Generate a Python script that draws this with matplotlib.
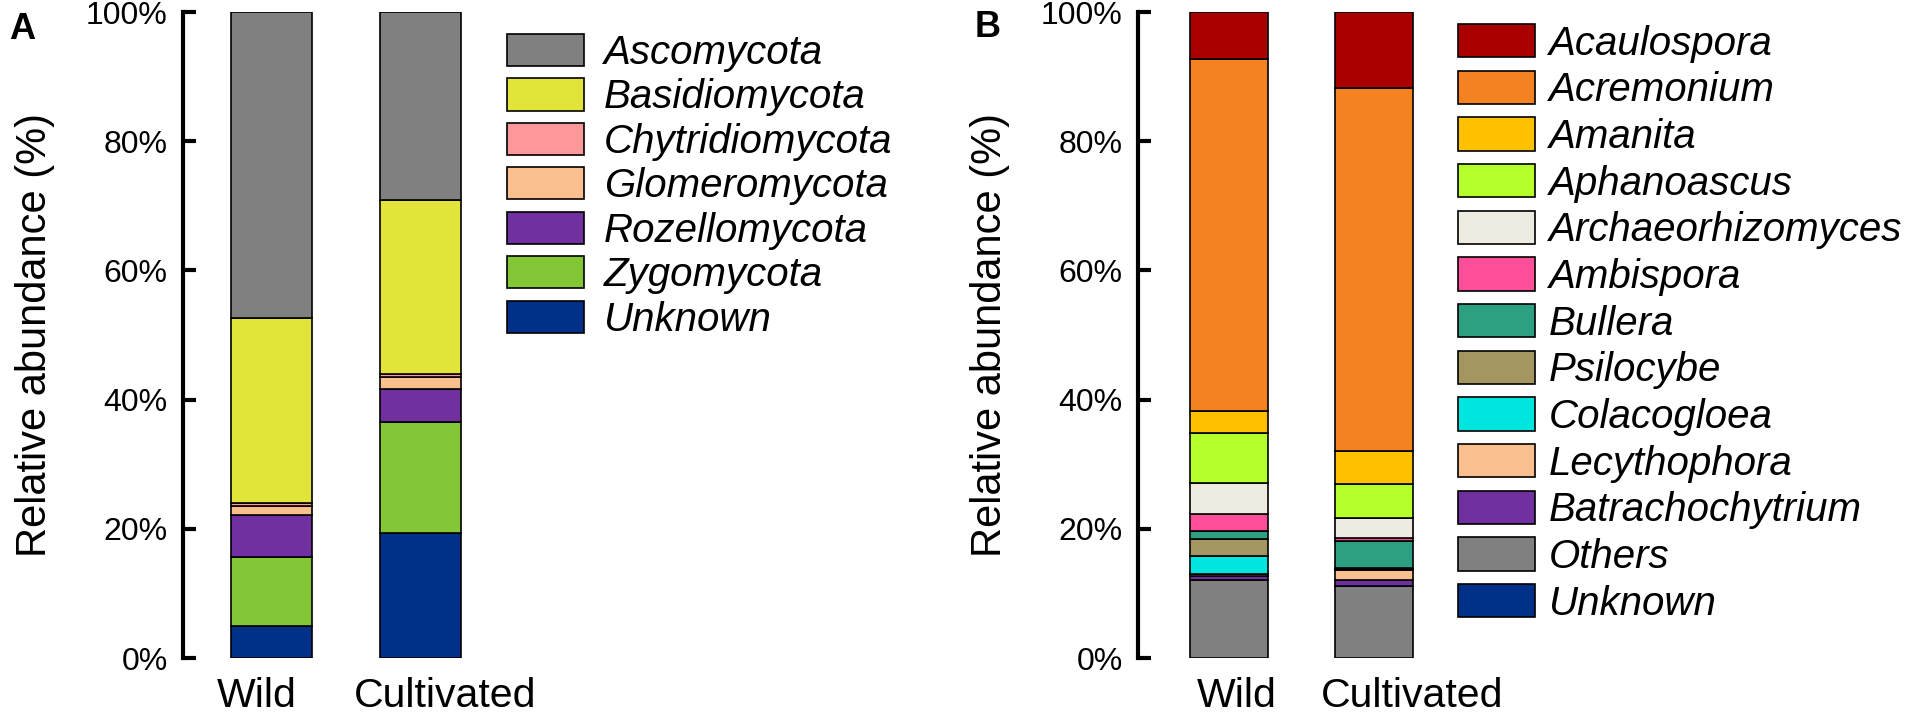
import matplotlib
matplotlib.use('Agg')
from matplotlib import pyplot as plt
import numpy as np

plt.rc('font', family=['Liberation Sans', 'DejaVu Sans'], size=23)

groups = ['Wild', 'Cultivated']
y_ticks = [0, 20, 40, 60, 80, 100]
y_tick_labels = ['0%', '20%', '40%', '60%', '80%', '100%']

# panel A, phylum level (top of the stack first, as in the legend)
phyla = ['Ascomycota', 'Basidiomycota', 'Chytridiomycota', 'Glomeromycota',
         'Rozellomycota', 'Zygomycota', 'Unknown']
phyla_wild = [47.4, 28.6, 0.5, 1.3, 6.5, 10.7, 5.0]
phyla_cult = [29.1, 27.0, 0.4, 1.9, 5.0, 17.3, 19.3]
phyla_colors = ['#808080', '#e2e43a', '#ff9999', '#f9bf8f', '#7030a0',
                '#84c736', '#003087']

# panel B, genus level
genera = ['Acaulospora', 'Acremonium', 'Amanita', 'Aphanoascus',
          'Archaeorhizomyces', 'Ambispora', 'Bullera', 'Psilocybe',
          'Colacogloea', 'Lecythophora', 'Batrachochytrium', 'Others', 'Unknown']
genera_wild = [7.2, 54.5, 3.5, 7.7, 4.8, 2.6, 1.3, 2.6, 2.8, 0.3, 0.6, 12.1, 0.0]
genera_cult = [11.7, 56.3, 5.1, 5.2, 3.2, 0.4, 4.1, 0.3, 0.1, 1.6, 0.8, 11.2, 0.0]
genera_colors = ['#aa0000', '#f58220', '#ffc000', '#b5ff2a', '#eeece1',
                 '#ff4f9a', '#2ca080', '#a39660', '#00e5e0', '#f9bf8f',
                 '#7030a0', '#808080', '#003087']

W, H = 1910, 714
fig = plt.figure(figsize=(W / 100, H / 100), dpi=100)


def px_axes(left, right, top, bottom):
    return fig.add_axes([left / W, 1 - bottom / H, (right - left) / W, (bottom - top) / H])


def stacked(ax, names, wild, cult, colors, width):
    x = np.arange(len(groups))
    vals = np.array([wild, cult]).T
    bottom = np.zeros(len(groups))
    handles = []
    for name, v, c in reversed(list(zip(names, vals, colors))):
        h = ax.bar(x, v, width, bottom=bottom, color=c, edgecolor='black',
                   linewidth=1.2, label=name)
        bottom += v
        handles.append(h)
    return handles[::-1]


def style(ax, xlim, label_pos):
    ax.set_xlim(*xlim)
    ax.set_ylim(0, 100)
    for s in ['top', 'right', 'bottom']:
        ax.spines[s].set_visible(False)
    ax.spines['left'].set_linewidth(3)
    ax.set_yticks(y_ticks)
    ax.set_yticklabels(y_tick_labels)
    ax.tick_params(axis='y', direction='in', length=9, width=3, pad=11)
    # group names sit a little off the bar centres in the original
    ax.set_xticks(label_pos)
    ax.set_xticklabels(groups)
    ax.tick_params(axis='x', length=0, pad=14, labelsize=29.5)
    ax.set_ylabel('Relative abundance (%)', fontsize=30, labelpad=22)


axA = px_axes(183, 490, 12, 658)
hA = stacked(axA, phyla, phyla_wild, phyla_cult, phyla_colors, 0.545)
style(axA, (-0.596, 1.471), [-0.1, 1.17])

axB = px_axes(1138, 1440, 12, 658)
hB = stacked(axB, genera, genera_wild, genera_cult, genera_colors, 0.538)
style(axB, (-0.628, 1.455), [0.05, 1.26])

leg_kw = dict(loc='upper left', bbox_transform=fig.transFigure, frameon=False,
              prop=dict(style='italic', size=29), handlelength=1.9,
              borderpad=0, borderaxespad=0)
axA.legend(hA, phyla, bbox_to_anchor=(507 / W, 1 - 34 / H), labelspacing=0.16,
           handleheight=0.85, handletextpad=0.5, **leg_kw)
axB.legend(hB, genera, bbox_to_anchor=(1458 / W, 1 - 24 / H), labelspacing=0.2,
           handleheight=0.9, handletextpad=0.35, **leg_kw)

fig.text(9 / W, 1 - 12 / H, 'A', weight='bold', size=26, va='top')
fig.text(975 / W, 1 - 10 / H, 'B', weight='bold', size=26, va='top')

fig.savefig('out.png', dpi=100)
